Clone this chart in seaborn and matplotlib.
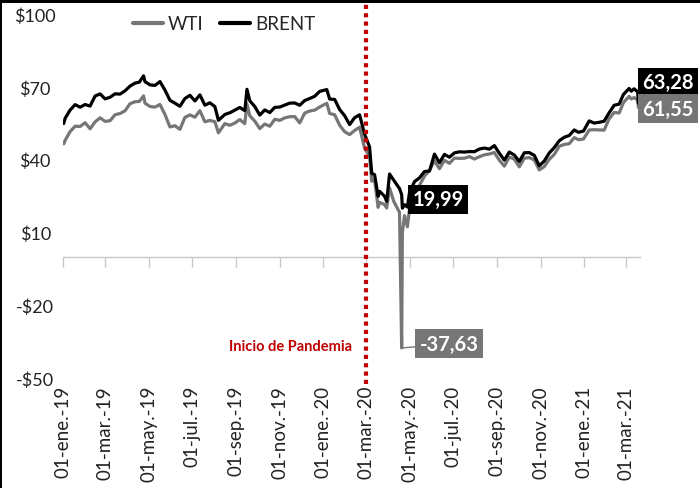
import matplotlib
matplotlib.use("Agg")
import numpy as np
import pandas as pd
import matplotlib.pyplot as plt
import matplotlib.dates as mdates
from matplotlib.patches import Rectangle
import seaborn as sns

# weekly-ish closes (USD per barrel)
dates = [
    "2019-01-02", "2019-01-04", "2019-01-11", "2019-01-18", "2019-01-25", "2019-02-01",
    "2019-02-08", "2019-02-15", "2019-02-22", "2019-03-01", "2019-03-08", "2019-03-15",
    "2019-03-22", "2019-03-29", "2019-04-05", "2019-04-12", "2019-04-18", "2019-04-24",
    "2019-04-26", "2019-05-03", "2019-05-10", "2019-05-17", "2019-05-24", "2019-05-31",
    "2019-06-07", "2019-06-14", "2019-06-21", "2019-06-28", "2019-07-05", "2019-07-12",
    "2019-07-19", "2019-07-26", "2019-08-02", "2019-08-07", "2019-08-16", "2019-08-23",
    "2019-08-30", "2019-09-06", "2019-09-13", "2019-09-16", "2019-09-20", "2019-09-27",
    "2019-10-04", "2019-10-11", "2019-10-18", "2019-10-25", "2019-11-01", "2019-11-08",
    "2019-11-15", "2019-11-22", "2019-11-29", "2019-12-06", "2019-12-13", "2019-12-20",
    "2019-12-27", "2020-01-06", "2020-01-10", "2020-01-17", "2020-01-24", "2020-01-31",
    "2020-02-07", "2020-02-14", "2020-02-21", "2020-02-28", "2020-03-06", "2020-03-09",
    "2020-03-13", "2020-03-18", "2020-03-20", "2020-03-27", "2020-03-30", "2020-04-03",
    "2020-04-09", "2020-04-17", "2020-04-20", "2020-04-21", "2020-04-24", "2020-04-28",
    "2020-05-01", "2020-05-08", "2020-05-15", "2020-05-22", "2020-05-29", "2020-06-05",
    "2020-06-12", "2020-06-19", "2020-06-26", "2020-07-03", "2020-07-10", "2020-07-17",
    "2020-07-24", "2020-07-31", "2020-08-07", "2020-08-14", "2020-08-21", "2020-08-28",
    "2020-09-04", "2020-09-11", "2020-09-18", "2020-09-25", "2020-10-02", "2020-10-09",
    "2020-10-16", "2020-10-23", "2020-10-30", "2020-11-06", "2020-11-13", "2020-11-20",
    "2020-11-27", "2020-12-04", "2020-12-11", "2020-12-18", "2020-12-24", "2020-12-31",
    "2021-01-08", "2021-01-15", "2021-01-22", "2021-01-29", "2021-02-05", "2021-02-12",
    "2021-02-19", "2021-02-25", "2021-03-05", "2021-03-08", "2021-03-12", "2021-03-17",
    "2021-03-18",
]

brent = [
    54.91, 57.06, 60.48, 62.70, 61.64, 62.75,
    62.10, 66.25, 67.12, 65.07, 65.74, 67.16,
    67.03, 68.39, 70.34, 71.55, 71.97, 74.57,
    72.15, 70.85, 70.62, 72.21, 68.69, 64.49,
    63.29, 62.01, 65.20, 66.55, 64.23, 66.72,
    62.47, 63.46, 61.89, 56.23, 58.64, 59.34,
    60.43, 61.54, 60.22, 69.02, 64.28, 61.91,
    58.37, 60.51, 59.42, 61.58, 61.69, 62.51,
    63.30, 63.39, 62.43, 64.39, 65.22, 66.14,
    68.16, 68.91, 64.98, 64.85, 60.69, 58.16,
    54.47, 57.32, 58.50, 50.52, 45.27, 34.36,
    33.85, 24.88, 26.98, 24.93, 22.76, 34.11,
    31.48, 28.08, 25.57, 19.99, 21.44, 20.46,
    26.44, 30.97, 32.50, 35.13, 35.33, 42.30,
    38.73, 42.19, 41.02, 42.80, 43.24, 43.14,
    43.34, 43.30, 44.40, 44.80, 44.35, 45.81,
    42.66, 39.83, 43.15, 41.92, 39.27, 42.85,
    42.93, 41.77, 37.46, 39.45, 42.78, 44.96,
    47.80, 49.25, 49.97, 52.26, 51.29, 51.80,
    55.99, 55.10, 55.41, 55.88, 59.34, 62.43,
    62.91, 66.88, 69.36, 68.24, 69.22, 68.00,
    63.28,
]

wti = [
    46.54, 47.96, 51.59, 53.80, 53.69, 55.26,
    52.72, 55.59, 57.26, 55.80, 56.07, 58.52,
    59.04, 60.14, 63.08, 63.89, 64.00, 66.30,
    63.30, 61.94, 61.66, 62.76, 58.63, 53.50,
    54.00, 52.51, 57.43, 58.47, 57.51, 60.21,
    55.63, 56.20, 55.66, 51.09, 54.87, 54.17,
    55.10, 56.52, 54.85, 62.90, 58.09, 55.91,
    52.81, 54.70, 53.78, 56.66, 56.20, 57.24,
    57.72, 57.77, 55.17, 59.20, 60.07, 60.44,
    61.72, 63.27, 59.04, 58.54, 54.19, 51.56,
    50.32, 52.05, 53.38, 44.76, 41.28, 31.13,
    31.73, 20.37, 22.43, 21.51, 20.09, 28.34,
    22.76, 18.27, -37.63, 10.01, 16.94, 12.34,
    19.78, 24.74, 29.43, 33.25, 35.49, 39.55,
    36.26, 39.75, 38.49, 40.65, 40.55, 40.59,
    41.29, 40.27, 41.22, 42.01, 42.34, 42.97,
    39.77, 37.33, 41.11, 40.25, 37.05, 40.60,
    40.88, 39.85, 35.79, 37.14, 40.13, 42.15,
    45.53, 46.26, 46.57, 49.10, 48.23, 48.52,
    52.24, 52.36, 52.27, 52.20, 56.85, 59.47,
    59.24, 63.53, 66.09, 65.05, 65.61, 64.60,
    61.55,
]

tick_dates = ["2019-01-01", "2019-03-01", "2019-05-01", "2019-07-01", "2019-09-01",
              "2019-11-01", "2020-01-01", "2020-03-01", "2020-05-01", "2020-07-01",
              "2020-09-01", "2020-11-01", "2021-01-01", "2021-03-01"]
tick_labels = ["01-ene.-19", "01-mar.-19", "01-may.-19", "01-jul.-19", "01-sep.-19",
               "01-nov.-19", "01-ene.-20", "01-mar.-20", "01-may.-20", "01-jul.-20",
               "01-sep.-20", "01-nov.-20", "01-ene.-21", "01-mar.-21"]
y_ticks = [-50, -20, 10, 40, 70, 100]
y_labels = ["-$50", "-$20", "$10", "$40", "$70", "$100"]

pandemic_date = "2020-03-01"

WTI_COLOR = "#767676"
BRENT_COLOR = "#000000"
RED = "#c00000"

df = pd.DataFrame({"fecha": pd.to_datetime(dates), "WTI": wti, "BRENT": brent})
long = df.melt(id_vars="fecha", var_name="serie", value_name="precio")

sns.set_theme(style="white")
plt.rcParams["font.family"] = ["Lato", "DejaVu Sans"]

fig = plt.figure(figsize=(7, 4.89), dpi=100)
ax = fig.add_axes([0.09, 0.225, 0.824, 0.744])

sns.lineplot(data=long, x="fecha", y="precio", hue="serie",
             palette={"WTI": WTI_COLOR, "BRENT": BRENT_COLOR},
             hue_order=["WTI", "BRENT"], linewidth=2.3, ax=ax)

ax.set_xlim(pd.Timestamp("2019-01-01"), pd.Timestamp("2021-03-20"))
ax.set_ylim(-50, 100)
ax.set_xlabel("")
ax.set_ylabel("")
for s in ax.spines.values():
    s.set_visible(False)

tick_num = mdates.date2num(pd.to_datetime(tick_dates))
ax.set_xticks(tick_num)
ax.set_xticklabels(tick_labels, rotation=90, fontsize=13.5, color="#222222")
ax.set_yticks(y_ticks)
ax.set_yticklabels(y_labels, fontsize=13, color="#222222")
ax.tick_params(axis="both", length=0)
ax.tick_params(axis="x", pad=5)
ax.tick_params(axis="y", pad=20)
for lab in ax.get_yticklabels():
    lab.set_horizontalalignment("center")

# axis line at zero with tick marks
zero = ax.secondary_xaxis(1 / 3)
zero.set_xticks(tick_num)
zero.set_xticklabels([])
zero.tick_params(axis="x", direction="out", length=7, width=1, color="#c8c8c8")
zero.spines["bottom"].set_color("#c8c8c8")
zero.spines["bottom"].set_linewidth(1)
for k in ("top", "left", "right"):
    zero.spines[k].set_visible(False)

# pandemic marker
ax.axvline(pd.Timestamp(pandemic_date), ymin=-0.017, ymax=1.035, color=RED,
           linestyle=(0, (1, 1)), linewidth=3, clip_on=False, zorder=5)
ax.text(pd.Timestamp("2020-02-10"), -37, "Inicio de Pandemia", color=RED,
        fontsize=10.5, fontweight="bold", ha="right", va="center")

# value boxes
lbl = dict(fontsize=14.5, fontweight="bold", color="white", va="center", ha="left",
           textcoords="offset points", annotation_clip=False)
ax.annotate("19,99", xy=(pd.Timestamp("2020-04-21"), 19.99), xytext=(7.5, 6.5),
            bbox=dict(boxstyle="square,pad=0.22", fc=BRENT_COLOR, ec="none"), **lbl)
ax.annotate("-37,63", xy=(pd.Timestamp("2020-04-20"), -37.63), xytext=(13, 3),
            bbox=dict(boxstyle="square,pad=0.22", fc=WTI_COLOR, ec="none"),
            arrowprops=dict(arrowstyle="-", color=WTI_COLOR, lw=1,
                            shrinkA=0, shrinkB=0), **lbl)
ax.annotate("63,28", xy=(pd.Timestamp(dates[-1]), brent[-1]), xytext=(3, 15),
            bbox=dict(boxstyle="square,pad=0.22", fc=BRENT_COLOR, ec="none"), **lbl)
ax.annotate("61,55", xy=(pd.Timestamp(dates[-1]), wti[-1]), xytext=(3, -1),
            bbox=dict(boxstyle="square,pad=0.22", fc=WTI_COLOR, ec="none"), **lbl)

leg = ax.legend(loc="center left", bbox_to_anchor=(0.19, 1 - 25 / 489),
                bbox_transform=fig.transFigure, ncol=2, frameon=False, fontsize=13.5,
                handlelength=1.6, handletextpad=0.25, columnspacing=0.9, borderaxespad=0,
                borderpad=0)
for line in leg.get_lines():
    line.set_linewidth(3)

# screenshot frame (top bar and left edge)
fig.patches.append(Rectangle((0, 1 - 4 / 489), 1, 4 / 489, transform=fig.transFigure,
                             fc="black", ec="none", zorder=10))
fig.patches.append(Rectangle((0, 0), 2 / 700, 1, transform=fig.transFigure,
                             fc="black", ec="none", zorder=10))

fig.savefig("out.png", dpi=100)
